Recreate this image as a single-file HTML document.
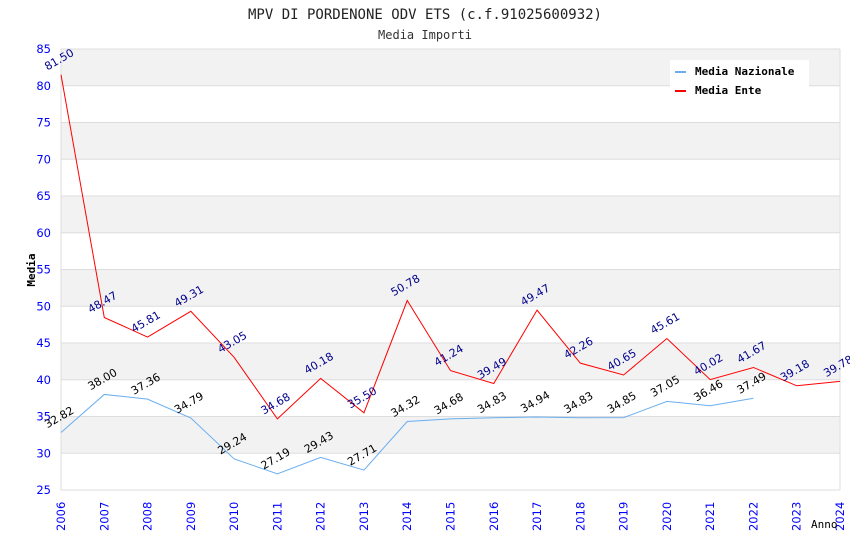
<!DOCTYPE html>
<html><head><meta charset="utf-8"><style>
body{margin:0;background:#fff}
svg text{font-family:"DejaVu Sans","Liberation Sans",sans-serif}
.mono{font-family:"DejaVu Sans Mono","Liberation Mono",monospace}
</style></head><body>
<svg id="c" width="850" height="550" xmlns="http://www.w3.org/2000/svg">
<text class="mono" x="425" y="19" text-anchor="middle" font-size="14" fill="#222">MPV DI PORDENONE ODV ETS (c.f.91025600932)</text>
<text class="mono" x="425" y="39" text-anchor="middle" font-size="12" fill="#333">Media Importi</text>
<g id="grid"></g><g id="series"></g><g id="labels"></g>
<text class="mono" x="35" y="270" transform="rotate(-90 35 270)" text-anchor="middle" font-size="11" font-weight="bold" fill="#000">Media</text>
<text class="mono" x="811" y="528" font-size="11" fill="#000">Anno</text>
<g>
<rect x="670" y="60" width="139" height="38" fill="#fff"/>
<g><rect x="675" y="71" width="11" height="2" fill="#6aaef0"/><text class="mono" x="695" y="75" font-size="11" font-weight="bold">Media Nazionale</text></g>
<g><rect x="675" y="90" width="11" height="2" fill="#f00"/><text class="mono" x="695" y="94" font-size="11" font-weight="bold">Media Ente</text></g>
</g>
</svg>
<script>
const years=[2006,2007,2008,2009,2010,2011,2012,2013,2014,2015,2016,2017,2018,2019,2020,2021,2022,2023,2024];
const ente=[81.50,48.47,45.81,49.31,43.05,34.68,40.18,35.50,50.78,41.24,39.49,49.47,42.26,40.65,45.61,40.02,41.67,39.18,39.78];
const naz=[32.82,38.00,37.36,34.79,29.24,27.19,29.43,27.71,34.32,34.68,34.83,34.94,34.83,34.85,37.05,36.46,37.49];
const yTicks=[25,30,35,40,45,50,55,60,65,70,75,80,85];
const L=61,R=840,T=49,B=490,yMin=25,yMax=85;
const X=i=>L+(R-L)*i/(years.length-1);
const Y=v=>B-(v-yMin)/(yMax-yMin)*(B-T);
const NS="http://www.w3.org/2000/svg";
function mk(t,a,p){const e=document.createElementNS(NS,t);for(const k in a)e.setAttribute(k,a[k]);p.appendChild(e);return e;}
const g=document.getElementById('grid');
for(let k=0;k<yTicks.length-1;k++){
 if(k%2==1){const r=mk('rect',{x:L,y:Y(yTicks[k+1]),width:R-L,height:Y(yTicks[k])-Y(yTicks[k+1]),fill:'#f2f2f2'},g);
 
 }
}
yTicks.forEach(v=>{
 const l=mk('line',{x1:L,x2:R,y1:Y(v),y2:Y(v),stroke:'#ddd'},g);
 
 
 const t=mk('text',{x:51,y:Y(v)+4,'text-anchor':'end','font-size':11.5,fill:'#00f'},g);t.textContent=v;
 
 
});
mk('line',{x1:L,x2:L,y1:T,y2:B,stroke:'#ddd'},g);
mk('line',{x1:R,x2:R,y1:T,y2:B,stroke:'#ddd'},g);
years.forEach((y,i)=>{
 const x=X(i)+4,yy=531;
 const t=mk('text',{x:x,y:yy,transform:`rotate(-90 ${x} ${yy})`,'font-size':11.5,fill:'#00f'},g);t.textContent=y;
 
 
});
const s=document.getElementById('series'),lb=document.getElementById('labels');
function line(d,col,name,tc){
 const p=mk('polyline',{points:d.map((v,i)=>X(i)+','+Y(v)).join(' '),fill:'none',stroke:col,'stroke-width':1},s);
 
 
 d.forEach((v,i)=>{
  const x=X(i),y=Y(v)-12;
  const t=mk('text',{x:x,y:y,transform:`rotate(-30 ${x} ${y})`,'text-anchor':'middle','font-size':11,fill:tc},lb);t.textContent=v.toFixed(2);
  
  
 });
}
line(naz,'#6aaef0','line-media-nazionale','#000');
line(ente,'#f00','line-media-ente','#00008b');
</script>
</body></html>
